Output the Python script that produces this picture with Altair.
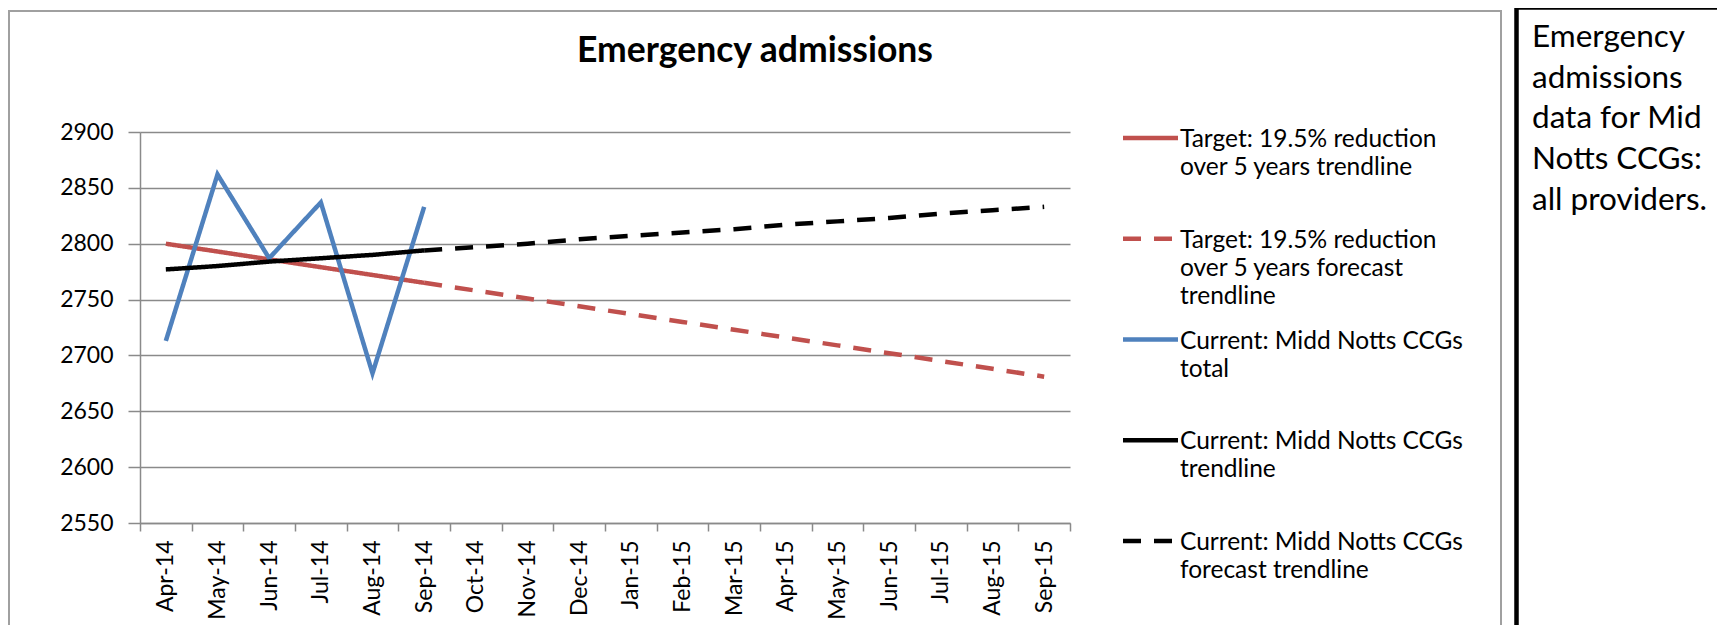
import altair as alt
import pandas as pd

# ---------------- data ----------------
months = ["Apr-14", "May-14", "Jun-14", "Jul-14", "Aug-14", "Sep-14",
          "Oct-14", "Nov-14", "Dec-14", "Jan-15", "Feb-15", "Mar-15",
          "Apr-15", "May-15", "Jun-15", "Jul-15", "Aug-15", "Sep-15"]

actual_months = ["Apr-14", "May-14", "Jun-14", "Jul-14", "Aug-14", "Sep-14"]
forecast_months = ["Sep-14", "Oct-14", "Nov-14", "Dec-14", "Jan-15", "Feb-15",
                   "Mar-15", "Apr-15", "May-15", "Jun-15", "Jul-15", "Aug-15", "Sep-15"]

total_vals = [2713, 2862, 2787, 2837, 2684, 2833]
target_trend_vals = [2800, 2793, 2786, 2779, 2772, 2765]
target_forecast_vals = [2765, 2758, 2751, 2744, 2737, 2730, 2723, 2716, 2709, 2702, 2695, 2688, 2681]
current_trend_vals = [2777, 2780, 2784, 2787, 2790, 2794]
current_forecast_vals = [2794, 2797, 2800, 2804, 2807, 2810, 2813, 2817, 2820, 2823, 2827, 2830, 2833]

y_ticks = [2550, 2600, 2650, 2700, 2750, 2800, 2850, 2900]

series_names = [
    "Target: 19.5% reduction over 5 years trendline",
    "Target: 19.5% reduction over 5 years forecast trendline",
    "Current: Midd Notts CCGs total",
    "Current: Midd Notts CCGs trendline",
    "Current: Midd Notts CCGs forecast trendline",
]
legend_labels = [
    "Target: 19.5% reduction\nover 5 years trendline",
    "Target: 19.5% reduction\nover 5 years forecast\ntrendline",
    "Current: Midd Notts CCGs\ntotal",
    "Current: Midd Notts CCGs\ntrendline",
    "Current: Midd Notts CCGs\nforecast trendline",
]
series_colors = ["#C0504D", "#C0504D", "#4F81BD", "#000000", "#000000"]
series_dashes = [[1, 0], [18, 13], [1, 0], [1, 0], [18, 13]]

title_text = "Emergency admissions"
box_text = "Emergency\nadmissions\ndata for Mid\nNotts CCGs:\nall providers."

# ---------------- styling ----------------
W, H = 930, 391
FONT = "Lato"
GRID = "#8a8a8a"
LW = 4.5

color_scale = alt.Scale(domain=series_names, range=series_colors)
dash_scale = alt.Scale(domain=series_names, range=series_dashes)
x_scale = alt.Scale(domain=months, paddingInner=0, paddingOuter=0)
y_scale = alt.Scale(domain=[2550, 2900], nice=False, zero=False)

x_axis = alt.Axis(title=None, labelAngle=270, tickBand="extent", tickSize=8,
                  labelPadding=9, labelFont=FONT, labelFontSize=23,
                  labelColor="black", domainColor=GRID, domainWidth=1.5,
                  tickColor=GRID, tickWidth=1.5, grid=False, labelOverlap=False)
y_axis = alt.Axis(title=None, values=y_ticks, format="d", grid=True,
                  gridColor=GRID, gridWidth=1.5, tickSize=12, labelPadding=15,
                  labelFont=FONT, labelFontSize=23, labelColor="black",
                  domainColor=GRID, domainWidth=1.5, tickColor=GRID, tickWidth=1.5)


def line_layer(mlist, vals, idx):
    df = pd.DataFrame({"month": mlist, "value": vals, "series": series_names[idx]})
    return alt.Chart(df).mark_line(strokeWidth=LW).encode(
        x=alt.X("month:N", sort=months, scale=x_scale, axis=x_axis),
        y=alt.Y("value:Q", scale=y_scale, axis=y_axis),
        color=alt.Color("series:N", scale=color_scale, legend=None),
        strokeDash=alt.StrokeDash("series:N", scale=dash_scale, legend=None),
    )


data_layers = alt.layer(
    line_layer(actual_months, target_trend_vals, 0),
    line_layer(forecast_months, target_forecast_vals, 1),
    line_layer(actual_months, total_vals, 2),
    line_layer(actual_months, current_trend_vals, 3),
    line_layer(forecast_months, current_forecast_vals, 4),
)

# ---------------- legend ----------------
legend_df = pd.DataFrame({"series": series_names, "label": legend_labels})
legend_y = alt.Y("series:N", sort=series_names,
                 scale=alt.Scale(type="point", domain=series_names, range=[6, 409], padding=0),
                 axis=None)
legend_rules = alt.Chart(legend_df).mark_rule(strokeWidth=LW).encode(
    y=legend_y, x=alt.value(983), x2=alt.value(1038),
    color=alt.Color("series:N", scale=color_scale, legend=None),
    strokeDash=alt.StrokeDash("series:N", scale=dash_scale, legend=None),
)
legend_text = alt.Chart(legend_df).mark_text(
    align="left", baseline="alphabetic", dy=9, font=FONT, fontSize=24.5,
    lineBreak="\n", lineHeight=28, color="black"
).encode(y=legend_y, x=alt.value(1040), text="label:N")
legend_layers = alt.layer(legend_rules, legend_text)

# ---------------- decoration ----------------
one = pd.DataFrame({"k": [0]})
chart_border = alt.Chart(one).mark_rect(fillOpacity=0, stroke="#a0a0a0", strokeWidth=2).encode(
    x=alt.value(-131), x2=alt.value(1361), y=alt.value(-121), y2=alt.value(700))
box_border = alt.Chart(one).mark_rect(fillOpacity=0, stroke="black", strokeWidth=4.5).encode(
    x=alt.value(1376.5), x2=alt.value(1800), y=alt.value(-124.5), y2=alt.value(700))
box_label = alt.Chart(one).mark_text(
    align="left", baseline="alphabetic", font=FONT, fontSize=31.5,
    lineBreak="\n", lineHeight=40.7, color="black"
).encode(x=alt.value(1392), y=alt.value(-85), text=alt.value(box_text))
title_mark = alt.Chart(one).mark_text(
    align="center", baseline="alphabetic", font=FONT, fontSize=35.5,
    fontWeight="bold", color="black"
).encode(x=alt.value(615), y=alt.value(-70), text=alt.value(title_text))

chart = alt.layer(
    chart_border, box_border, box_label, title_mark, data_layers, legend_layers
).resolve_scale(y="independent").properties(
    width=W, height=H, autosize="none",
    padding={"left": 132, "top": 124, "right": 647, "bottom": 102},
    background="white",
).configure_view(strokeWidth=0)

chart.save("out.html", embed_options={"renderer": "svg", "actions": False})
